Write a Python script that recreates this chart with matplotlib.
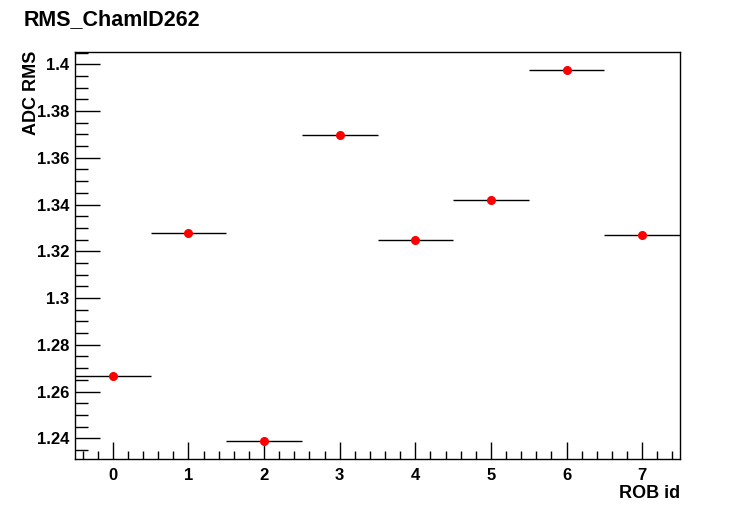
import matplotlib
matplotlib.use("Agg")
import matplotlib.pyplot as plt
from matplotlib.ticker import MultipleLocator

rob_id = [0, 1, 2, 3, 4, 5, 6, 7]
adc_rms = [1.2665, 1.3277, 1.2387, 1.3698, 1.3248, 1.3419, 1.3974, 1.3270]
x_err = [0.5] * 8

plt.rcParams['font.family'] = ['Liberation Sans', 'DejaVu Sans']
plt.rcParams['font.weight'] = 'bold'

fig = plt.figure(figsize=(7.56, 5.11), dpi=100)
ax = fig.add_axes([75/756, 1 - 459.3/511, 605/756, (459.3 - 51.7)/511])

ax.errorbar(rob_id, adc_rms, xerr=x_err, fmt='o', color='red', ms=5.5,
            ecolor='black', elinewidth=1, capsize=0, mec='red')

ax.set_xlim(-0.5, 7.5)
ax.set_ylim(1.2310, 1.4054)
ax.xaxis.set_major_locator(MultipleLocator(1))
ax.xaxis.set_minor_locator(MultipleLocator(0.2))
ax.yaxis.set_minor_locator(MultipleLocator(0.005))
ax.set_yticks([1.24, 1.26, 1.28, 1.30, 1.32, 1.34, 1.36, 1.38, 1.40])
ax.set_yticklabels(['1.24', '1.26', '1.28', '1.3', '1.32', '1.34', '1.36', '1.38', '1.4'])

ax.tick_params(axis='x', which='major', direction='in', length=12, width=1, labelsize=12, pad=6)
ax.tick_params(axis='x', which='minor', direction='in', length=6, width=1)
ax.tick_params(axis='y', which='major', direction='in', length=18, width=1, labelsize=12, pad=4)
ax.tick_params(axis='y', which='minor', direction='in', length=9, width=1)
for s in ax.spines.values():
    s.set_linewidth(1)

fig.text(24/756, 1 - 20/511, 'RMS_ChamID262', fontsize=15.5, fontweight='bold', va='center', ha='left')
fig.text(31/756, 1 - 51/511, 'ADC RMS', fontsize=13, fontweight='bold', rotation=90, va='top', ha='center')
fig.text(680/756, 1 - 493/511, 'ROB id', fontsize=13, fontweight='bold', va='center', ha='right')

fig.savefig('out.png', dpi=100)
